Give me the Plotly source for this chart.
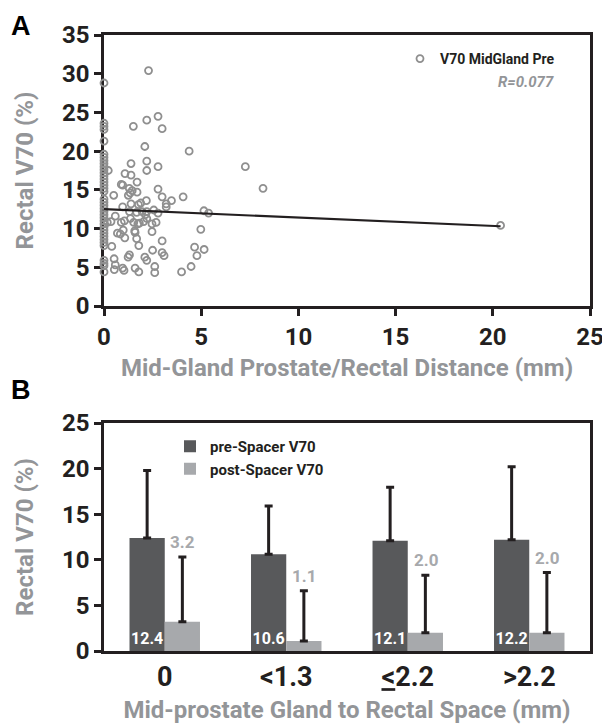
import plotly.graph_objects as go

# ---------------- Panel A data ----------------
dist_zero_y = [28.8, 23.6, 23.2, 22.8, 21.3, 19.6, 19.2, 18.8, 18.4, 18.0, 17.6, 17.2,
               16.8, 16.4, 16.0, 15.6, 15.2, 14.8, 13.8, 13.4, 13.0, 12.6, 12.2, 11.8,
               11.4, 11.0, 10.6, 10.2, 9.8, 9.4, 9.0, 8.6, 8.2, 7.8, 5.9, 5.5, 5.2, 4.4]
other_pts = [(2.29, 30.4), (1.51, 23.2), (2.2, 24.0), (2.78, 24.5), (2.99, 22.9), (2.1, 20.6),
             (4.38, 20.0), (7.27, 18.0), (8.18, 15.2), (20.4, 10.4),
             (1.39, 18.4), (2.2, 18.7), (2.2, 17.5), (2.78, 18.0), (0.22, 17.5), (1.08, 17.1),
             (1.39, 16.9), (1.70, 16.0), (0.89, 15.7), (0.96, 15.6), (1.3, 15.2), (1.35, 14.6),
             (1.25, 14.3), (1.45, 14.9), (1.70, 14.7), (0.5, 14.3), (2.78, 15.1), (2.99, 14.1),
             (3.47, 13.6), (4.07, 14.1), (3.2, 13.2), (3.2, 12.8), (2.18, 13.6), (1.77, 13.1),
             (1.89, 13.3), (1.39, 13.2), (0.96, 12.8), (1.31, 12.2), (1.68, 12.1), (1.96, 12.2),
             (2.2, 12.2), (2.56, 12.4), (2.78, 12.0), (5.14, 12.3), (5.38, 12.0), (0.17, 10.8),
             (0.36, 10.9), (0.58, 11.6), (0.89, 10.8), (1.05, 11.0), (1.36, 11.3), (1.53, 10.8),
             (1.74, 10.6), (1.82, 10.7), (2.04, 10.9), (2.2, 11.3), (2.13, 11.8), (2.47, 10.6),
             (2.68, 10.8), (0.99, 9.8), (0.69, 9.4), (0.84, 9.3), (1.07, 8.8), (1.58, 9.7),
             (1.6, 9.5), (2.47, 9.6), (1.68, 8.7), (1.79, 7.8), (2.99, 8.4), (4.98, 9.9),
             (0.4, 7.7), (2.5, 7.2), (2.99, 6.9), (3.09, 6.5), (4.66, 7.6), (4.78, 6.5),
             (5.15, 7.3), (0.52, 6.1), (1.24, 6.3), (1.31, 6.6), (2.1, 6.3), (2.2, 5.9),
             (0.58, 5.3), (0.53, 4.7), (0.96, 4.9), (1.03, 4.6), (1.6, 4.9), (1.79, 4.4),
             (2.61, 5.1), (2.61, 4.3), (3.99, 4.4), (4.48, 5.1)]
scatter_x = [0.0] * len(dist_zero_y) + [p[0] for p in other_pts]
scatter_y = dist_zero_y + [p[1] for p in other_pts]
fit_x = [0.0, 20.4]
fit_y = [12.5, 10.3]
r_label = "R=0.077"

# ---------------- Panel B data ----------------
categories = ["0", "<1.3", "<u>&lt;</u>2.2", ">2.2"]
pre_vals = [12.4, 10.6, 12.1, 12.2]
pre_err = [7.4, 5.3, 5.85, 8.0]
post_vals = [3.2, 1.1, 2.0, 2.0]
post_err = [7.1, 5.5, 6.3, 6.6]

FONT = "Roboto, Liberation Sans, Arial, sans-serif"
BLACK = "#231f20"
GRAY_T = "#939598"
PRE_C = "#58595b"
POST_C = "#a7a9ac"

W, H = 602, 727


def px(p):
    return p / W


def py(p):
    return 1 - p / H


fig = go.Figure()

fig.add_trace(go.Scatter(
    x=scatter_x, y=scatter_y, mode="markers", name="V70 MidGland Pre",
    marker=dict(symbol="circle-open", size=7, color="#8f8f8f", line=dict(width=1.8)),
    cliponaxis=False, xaxis="x", yaxis="y", legend="legend"))
fig.add_trace(go.Scatter(
    x=fit_x, y=fit_y, mode="lines", line=dict(color=BLACK, width=2.2),
    showlegend=False, xaxis="x", yaxis="y"))

fig.add_trace(go.Bar(
    x=categories, y=pre_vals, name="pre-Spacer V70", marker=dict(color=PRE_C, line=dict(width=0)),
    error_y=dict(type="data", symmetric=False, array=pre_err, arrayminus=[0]*4,
                 color=BLACK, thickness=3, width=4),
    text=[f"{v:.1f}" for v in pre_vals], textposition="inside", insidetextanchor="start",
    constraintext="none", textangle=0,
    textfont=dict(family=FONT, size=16, color="white", weight="bold"),
    xaxis="x2", yaxis="y2", legend="legend2"))
fig.add_trace(go.Bar(
    x=categories, y=post_vals, name="post-Spacer V70", marker=dict(color=POST_C, line=dict(width=0)),
    error_y=dict(type="data", symmetric=False, array=post_err, arrayminus=[0]*4,
                 color=BLACK, thickness=3, width=4),
    xaxis="x2", yaxis="y2", legend="legend2"))

annotations = []
for c, v, e in zip(categories, post_vals, post_err):
    annotations.append(dict(x=c, y=v + e, xref="x2", yref="y2", text=f"{v:.1f}",
                            showarrow=False, xshift=18, yanchor="bottom", yshift=3,
                            font=dict(family=FONT, size=17, color=POST_C, weight="bold")))
annotations.append(dict(x=px(556), y=py(82), xref="paper", yref="paper", text=r_label,
                        showarrow=False, xanchor="right", yanchor="middle",
                        font=dict(family=FONT, size=15, color=GRAY_T, weight="bold", style="italic")))
annotations.append(dict(x=px(9), y=py(26), xref="paper", yref="paper", text="A",
                        showarrow=False, xanchor="left", yanchor="middle",
                        font=dict(family="Liberation Sans, Arial, sans-serif", size=27, color="black", weight="bold")))
annotations.append(dict(x=px(9), y=py(390), xref="paper", yref="paper", text="B",
                        showarrow=False, xanchor="left", yanchor="middle",
                        font=dict(family="Liberation Sans, Arial, sans-serif", size=27, color="black", weight="bold")))

tickfont = dict(family=FONT, size=24, color=BLACK, weight="bold")
titlefont = dict(family=FONT, size=24, color=GRAY_T, weight="bold")
axis_common = dict(showline=True, linecolor=BLACK, linewidth=2.5, mirror=True, automargin=False,
                   showgrid=False, zeroline=False, tickfont=tickfont, ticklabeloverflow="allow")

xdom = [px(104), px(590)]
fig.update_layout(
    width=W, height=H, margin=dict(l=0, r=0, t=0, b=0),
    paper_bgcolor="white", plot_bgcolor="white",
    barmode="group", bargap=0.42, bargroupgap=0,
    xaxis=dict(domain=xdom, range=[0, 25], tickvals=[0, 5, 10, 15, 20, 25], ticks="outside",
               ticklen=7, tickwidth=2.5, tickcolor=BLACK, anchor="y",
               title=dict(text="Mid-Gland Prostate/Rectal Distance (mm)", font=titlefont, standoff=10),
               **axis_common),
    yaxis=dict(domain=[py(306), py(35)], range=[0, 35], tickvals=list(range(0, 36, 5)),
               ticks="outside", ticklen=7, tickwidth=2.5, tickcolor=BLACK, anchor="x",
               layer="below traces",
               title=dict(text="Rectal V70 (%)", font=titlefont, standoff=22), **axis_common),
    xaxis2=dict(domain=xdom, type="category", range=[-0.5, 3.5], ticks="", anchor="y2",
                title=dict(text="Mid-prostate Gland to Rectal Space (mm)", font=titlefont, standoff=10),
                **{**axis_common, "tickfont": dict(family=FONT, size=27, color=BLACK, weight="bold")}),
    yaxis2=dict(domain=[py(651), py(423)], range=[0, 25], tickvals=list(range(0, 26, 5)),
                ticks="outside", ticklen=7, tickwidth=2.5, tickcolor=BLACK, anchor="x2",
                title=dict(text="Rectal V70 (%)", font=titlefont, standoff=22), **axis_common),
    legend=dict(x=px(400), y=py(43), xanchor="left", yanchor="top", bgcolor="rgba(0,0,0,0)",
                font=dict(family=FONT, size=14, color=BLACK, weight="bold"), itemwidth=30),
    legend2=dict(x=px(170), y=py(430), xanchor="left", yanchor="top", bgcolor="rgba(0,0,0,0)",
                 font=dict(family=FONT, size=15, color=BLACK, weight="bold"), itemwidth=30,
                 tracegroupgap=0),
    annotations=annotations,
)

# remove the browser's default body margin and scrollbars so the figure fills the window exactly
fig.write_html(
    "out.html",
    config={"displayModeBar": False},
    post_script=("document.body.style.margin='0';"
                 "document.body.style.overflow='hidden';"
                 "document.documentElement.style.overflow='hidden';"),
)
